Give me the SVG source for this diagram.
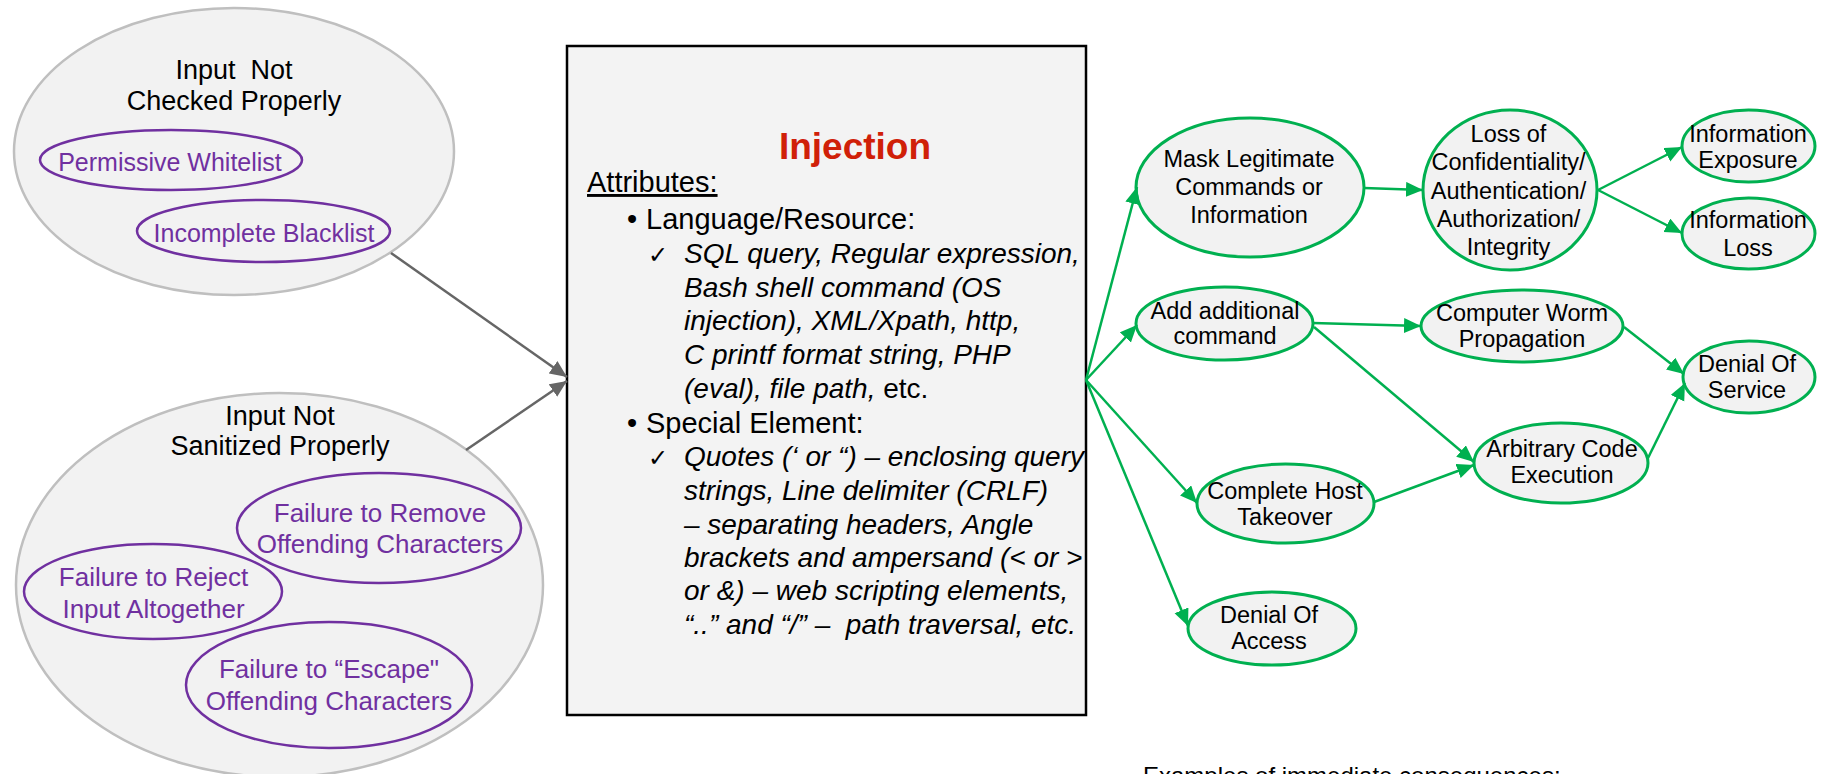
<svg xmlns="http://www.w3.org/2000/svg" width="1824" height="774" viewBox="0 0 1824 774">
  <style>
    text { font-family: "Liberation Sans", Arial, sans-serif; fill: #000; }
    .cause { fill: #f2f2f2; stroke: #bfbfbf; stroke-width: 2.5; }
    .sub { fill: none; stroke: #7030a0; stroke-width: 2.5; }
    .causeTxt { font-size: 27px; text-anchor: middle; white-space: pre; }
    .subTxt { font-size: 26px; text-anchor: middle; fill: #7030a0; }
    .cons { fill: #f2f2f2; stroke: #00b050; stroke-width: 3; }
    .consTxt { font-size: 23.5px; text-anchor: middle; }
    .box { fill: #f3f3f3; stroke: #000; stroke-width: 2.5; }
    .title { font-size: 37px; font-weight: bold; fill: #d02008; text-anchor: middle; }
    .lvl0 { font-size: 29px; }
    .lvl1 { font-size: 29px; }
    .lvl2 { font-size: 28px; font-style: italic; white-space: pre; }
    .plain { font-style: normal; }
    .check { font-size: 24px; font-family: "DejaVu Sans", sans-serif; }
    .grayLink { stroke: #666; stroke-width: 2.5; fill: none; marker-end: url(#arrowGray); }
    .greenLink { stroke: #00b050; stroke-width: 2.5; fill: none; marker-end: url(#arrowGreen); }
  </style>
  <defs>
    <marker id="arrowGray" markerUnits="userSpaceOnUse" markerWidth="18" markerHeight="16" refX="17" refY="7.5" orient="auto">
      <path d="M0,0 L17,7.5 L0,15 z" fill="#666"/>
    </marker>
    <marker id="arrowGreen" markerUnits="userSpaceOnUse" markerWidth="18" markerHeight="16" refX="17" refY="7.5" orient="auto">
      <path d="M0,0 L17,7.5 L0,15 z" fill="#00b050"/>
    </marker>
  </defs>

  <!-- causes -->
  <g id="input-not-checked">
    <ellipse class="cause" cx="234" cy="151.5" rx="220" ry="143.5"/>
    <text class="causeTxt" x="234" y="79">Input  Not</text>
    <text class="causeTxt" x="234" y="110">Checked Properly</text>
  </g>
  <g id="permissive-whitelist">
    <ellipse class="sub" cx="171" cy="160" rx="131" ry="30"/>
    <text class="subTxt" style="font-size:25px" x="170" y="171">Permissive Whitelist</text>
  </g>
  <g id="incomplete-blacklist">
    <ellipse class="sub" cx="263.5" cy="231" rx="126.5" ry="31"/>
    <text class="subTxt" style="font-size:25px" x="264" y="242">Incomplete Blacklist</text>
  </g>

  <g id="input-not-sanitized">
    <ellipse class="cause" cx="279.5" cy="585" rx="263.5" ry="192"/>
    <text class="causeTxt" x="280" y="425">Input Not</text>
    <text class="causeTxt" x="280" y="455">Sanitized Properly</text>
  </g>
  <g id="failure-remove">
    <ellipse class="sub" cx="379" cy="528" rx="142" ry="55"/>
    <text class="subTxt" x="380" y="522">Failure to Remove</text>
    <text class="subTxt" x="380" y="553">Offending Characters</text>
  </g>
  <g id="failure-reject">
    <ellipse class="sub" cx="153" cy="591.5" rx="129" ry="47.5"/>
    <text class="subTxt" x="153.5" y="586">Failure to Reject</text>
    <text class="subTxt" x="153.5" y="618">Input Altogether</text>
  </g>
  <g id="failure-escape">
    <ellipse class="sub" cx="329" cy="685" rx="143" ry="63"/>
    <text class="subTxt" x="329" y="678">Failure to “Escape"</text>
    <text class="subTxt" x="329" y="710">Offending Characters</text>
  </g>

  <!-- weakness box -->
  <g id="injection">
    <rect class="box" x="567" y="46" width="519" height="669"/>
    <text class="title" x="855" y="159">Injection</text>
    <text class="lvl0" x="587" y="192" text-decoration="underline">Attributes:</text>
    <text class="lvl1" x="627" y="229">•</text>
    <text class="lvl1" x="646" y="229">Language/Resource:</text>
    <text class="check" x="648" y="263">✓</text>
    <text class="lvl2" x="684" y="263">SQL query, Regular expression,</text>
    <text class="lvl2" x="684" y="297">Bash shell command (OS</text>
    <text class="lvl2" x="684" y="330">injection), XML/Xpath, http,</text>
    <text class="lvl2" x="684" y="364">C printf format string, PHP</text>
    <text class="lvl2" x="684" y="398">(eval), file path,<tspan class="plain"> etc.</tspan></text>
    <text class="lvl1" x="627" y="433">•</text>
    <text class="lvl1" x="646" y="433">Special Element:</text>
    <text class="check" x="648" y="466">✓</text>
    <text class="lvl2" x="684" y="466">Quotes (‘ or “) – enclosing query</text>
    <text class="lvl2" x="684" y="500">strings, Line delimiter (CRLF)</text>
    <text class="lvl2" x="684" y="534">– separating headers, Angle</text>
    <text class="lvl2" x="684" y="567">brackets and ampersand (&lt; or &gt;</text>
    <text class="lvl2" x="684" y="600">or &amp;) – web scripting elements,</text>
    <text class="lvl2" x="684" y="634">“..” and “/” –  path traversal, etc.</text>
  </g>

  <!-- consequences -->
  <g id="mask-legitimate">
    <ellipse class="cons" cx="1250" cy="187.5" rx="114" ry="69.5"/>
    <text class="consTxt" x="1249" y="167">Mask Legitimate</text>
    <text class="consTxt" x="1249" y="195">Commands or</text>
    <text class="consTxt" x="1249" y="223">Information</text>
  </g>
  <g id="loss-of-cia">
    <ellipse class="cons" cx="1510" cy="190" rx="87" ry="80"/>
    <text class="consTxt" x="1508.5" y="142">Loss of</text>
    <text class="consTxt" x="1508.5" y="170">Confidentiality/</text>
    <text class="consTxt" x="1508.5" y="198.5">Authentication/</text>
    <text class="consTxt" x="1508.5" y="227">Authorization/</text>
    <text class="consTxt" x="1508.5" y="255">Integrity</text>
  </g>
  <g id="information-exposure">
    <ellipse class="cons" cx="1748.5" cy="146" rx="66.5" ry="36"/>
    <text class="consTxt" x="1748" y="142">Information</text>
    <text class="consTxt" x="1748" y="168">Exposure</text>
  </g>
  <g id="information-loss">
    <ellipse class="cons" cx="1748.5" cy="233.5" rx="66.5" ry="35.5"/>
    <text class="consTxt" x="1748" y="228">Information</text>
    <text class="consTxt" x="1748" y="256">Loss</text>
  </g>
  <g id="add-command">
    <ellipse class="cons" cx="1224.5" cy="323.5" rx="88.5" ry="36.5"/>
    <text class="consTxt" x="1225" y="319">Add additional</text>
    <text class="consTxt" x="1225" y="344">command</text>
  </g>
  <g id="worm-propagation">
    <ellipse class="cons" cx="1522" cy="326" rx="101" ry="36"/>
    <text class="consTxt" x="1522" y="321">Computer Worm</text>
    <text class="consTxt" x="1522" y="347">Propagation</text>
  </g>
  <g id="denial-of-service">
    <ellipse class="cons" cx="1749" cy="377" rx="66" ry="36"/>
    <text class="consTxt" x="1747" y="372">Denial Of</text>
    <text class="consTxt" x="1747" y="398">Service</text>
  </g>
  <g id="arbitrary-code">
    <ellipse class="cons" cx="1561" cy="463" rx="87" ry="40"/>
    <text class="consTxt" x="1562" y="457">Arbitrary Code</text>
    <text class="consTxt" x="1562" y="483">Execution</text>
  </g>
  <g id="host-takeover">
    <ellipse class="cons" cx="1285.5" cy="503.5" rx="88.5" ry="39.5"/>
    <text class="consTxt" x="1285" y="499">Complete Host</text>
    <text class="consTxt" x="1285" y="525">Takeover</text>
  </g>
  <g id="denial-of-access">
    <ellipse class="cons" cx="1272" cy="628.5" rx="84" ry="36.5"/>
    <text class="consTxt" x="1269" y="623">Denial Of</text>
    <text class="consTxt" x="1269" y="649">Access</text>
  </g>

  <g id="caption">
    <text x="1143" y="784" style="font-size:24px">Examples of immediate consequences:</text>
  </g>

  <!-- connectors -->
  <g id="connectors">
    <line class="grayLink" x1="391" y1="253" x2="567" y2="377"/>
    <line class="grayLink" x1="466" y1="450" x2="567" y2="381"/>

    <line class="greenLink" x1="1086" y1="380" x2="1137" y2="187"/>
    <line class="greenLink" x1="1086" y1="380" x2="1137" y2="325"/>
    <line class="greenLink" x1="1086" y1="380" x2="1197" y2="503"/>
    <line class="greenLink" x1="1086" y1="380" x2="1188" y2="626"/>
    <line class="greenLink" x1="1364" y1="188" x2="1423" y2="190"/>
    <line class="greenLink" x1="1598" y1="190" x2="1682" y2="147"/>
    <line class="greenLink" x1="1598" y1="190" x2="1682" y2="233"/>
    <line class="greenLink" x1="1313" y1="323" x2="1421" y2="326"/>
    <line class="greenLink" x1="1314" y1="327" x2="1474" y2="462"/>
    <line class="greenLink" x1="1374" y1="502" x2="1474" y2="465"/>
    <line class="greenLink" x1="1624" y1="327" x2="1684" y2="374"/>
    <line class="greenLink" x1="1648" y1="458" x2="1685" y2="383"/>
  </g>
</svg>
